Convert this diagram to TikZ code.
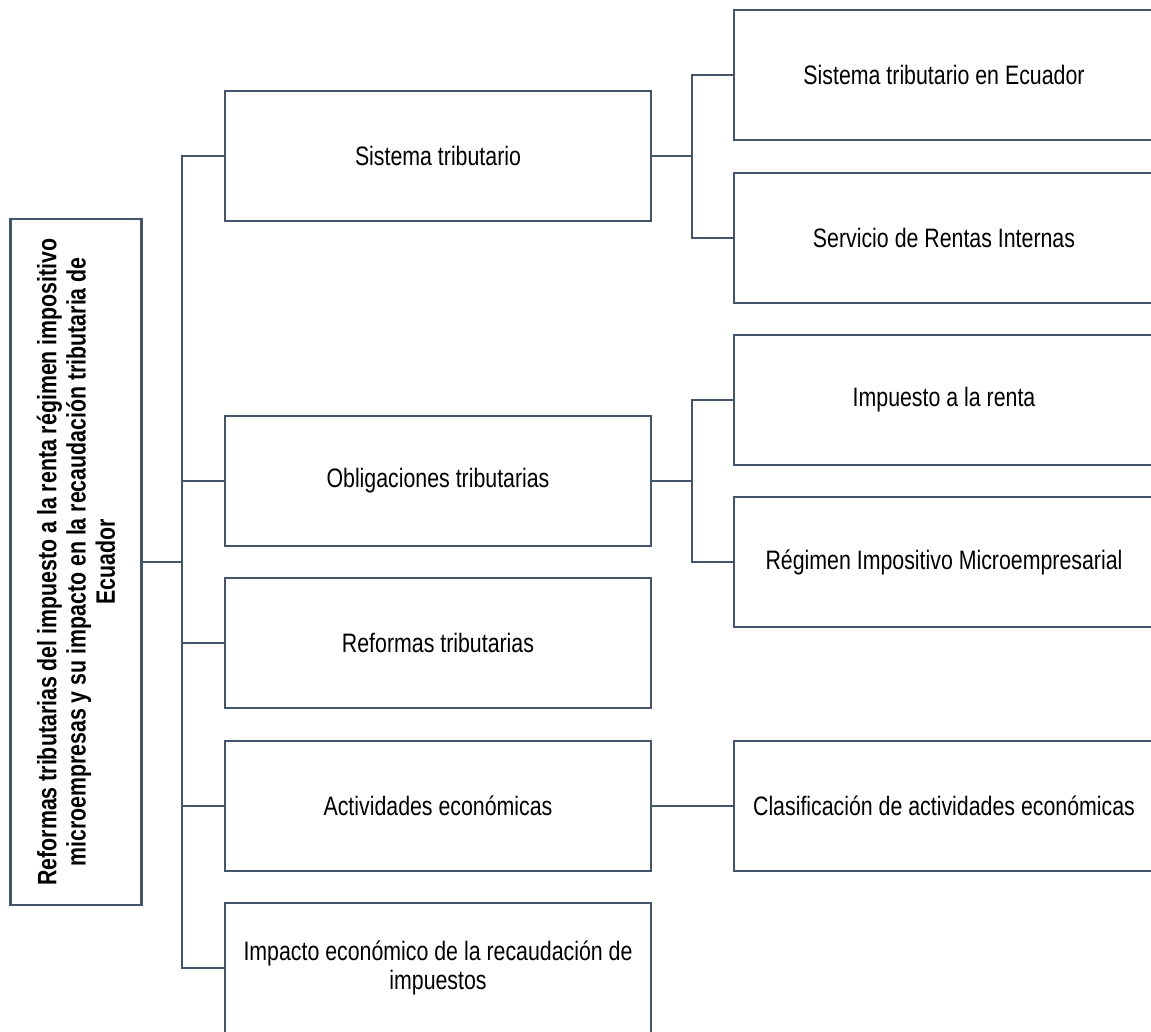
\documentclass[tikz,border=0pt]{standalone}
\usepackage{fontspec}
\setmainfont[FakeStretch=0.8]{Liberation Sans}
\definecolor{linea}{HTML}{44546A}
\begin{document}
\begin{tikzpicture}[x=0.75pt, y=-0.75pt,
        caja/.style={draw=linea, line width=1.6pt, minimum width=319.5pt, minimum height=97.5pt, inner sep=2pt, align=center, font=\fontsize{20}{21.5}\selectfont},
        subcaja/.style={caja, minimum width=315pt},
        raiz/.style={caja, rotate=90, minimum width=514.5pt, minimum height=98.25pt, font=\bfseries\fontsize{20}{22}\selectfont},
        rama/.style={draw=linea, line width=1.6pt}]
        \useasboundingbox (0,0) rectangle (1151,1031);
        % tema central
        \node[raiz] (raiz) at (76,562) {Reformas tributarias del impuesto a la renta régimen impositivo\\microempresas y su impacto en la recaudación tributaria de\\Ecuador};
        % temas
        \node[caja] (sist) at (438,156) {Sistema tributario};
        \node[caja] (obli) at (438,481) {Obligaciones tributarias};
        \node[caja] (refo) at (438,643) {Reformas tributarias};
        \node[caja] (acti) at (438,806) {Actividades económicas};
        \node[caja] (impa) at (438,968) {Impacto económico de la recaudación de\\impuestos};
        % subtemas
        \node[subcaja] (sisec) at (944,75) {Sistema tributario en Ecuador};
        \node[subcaja] (sri) at (944,238) {Servicio de Rentas Internas};
        \node[subcaja] (imre) at (944,400) {Impuesto a la renta};
        \node[subcaja] (rimi) at (944,562) {Régimen Impositivo Microempresarial};
        \node[subcaja] (clas) at (944,806) {Clasificación de actividades económicas};
        % ramas
        \foreach \t in {sist,obli,refo,acti,impa}
            \draw[rama] (\t.west) -- ++(-42,0) |- (raiz.south);
        \foreach \s/\t in {sisec/sist,sri/sist,imre/obli,rimi/obli}
            \draw[rama] (\s.west) -- ++(-41,0) |- (\t.east);
        \draw[rama] (acti.east) -- (clas.west);
\end{tikzpicture}
\end{document}
